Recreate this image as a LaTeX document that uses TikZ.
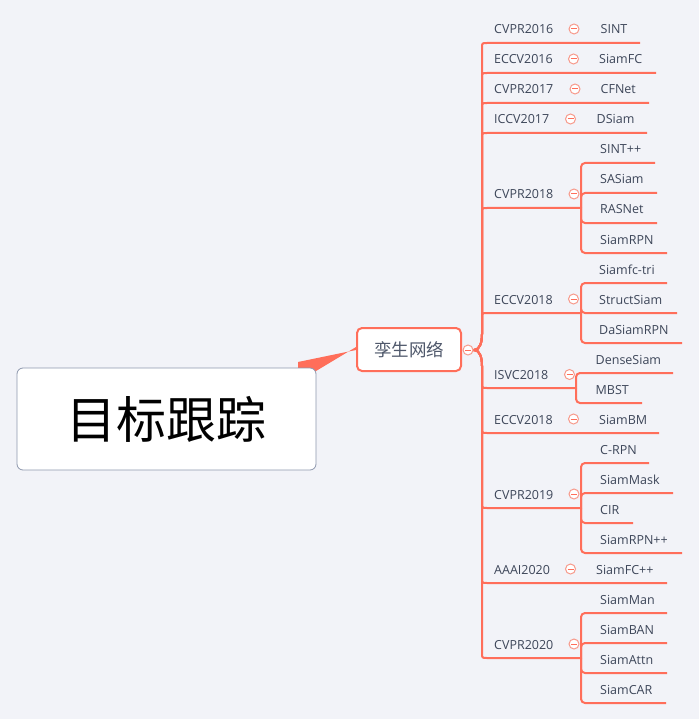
\documentclass[tikz,border=0pt]{standalone}
\usepackage{fontspec}
\setmainfont{Open Sans}
\newfontfamily\cjk{Noto Sans CJK SC}
\definecolor{bgc}{HTML}{F2F3F8}
\definecolor{ln}{HTML}{FF6E5A}
\definecolor{lnl}{HTML}{F79A8C}
\definecolor{txt}{HTML}{3D4659}
\definecolor{sibtxt}{HTML}{4F586B}
\definecolor{rootborder}{HTML}{8D97AD}
\pgfdeclarelayer{back}
\pgfdeclarelayer{lines}
\pgfsetlayers{back,lines,main}
\newcommand\subbr[3]{\foreach \yy/\xe in {#3}{\draw[link,rounded corners=4] (#1,#2) -- (#1,\yy) -- (\xe,\yy);}}
\begin{document}
\begin{tikzpicture}[x=1pt,y=-1pt,
  link/.style={draw=ln,line width=2pt},
  lab/.style={anchor=base west,inner sep=0pt,font=\fontsize{12.5}{14}\selectfont,text=txt},
  collapse/.style={circle,minimum size=10pt,inner sep=0pt,draw=lnl,line width=1pt,fill=white,
    path picture={\draw[ln,line width=1pt] ([xshift=-3pt]path picture bounding box.center) -- ([xshift=3pt]path picture bounding box.center);}},
  rootbox/.style={draw=rootborder,line width=0.8pt,fill=white,rounded corners=6pt,minimum width=299pt,minimum height=102pt,inner sep=0pt,font=\cjk\fontsize{50}{56}\selectfont,text=black},
  sibbox/.style={draw=ln,line width=2pt,fill=white,rounded corners=5pt,minimum width=104pt,minimum height=43pt,inner sep=0pt,font=\cjk\fontsize{17.5}{20}\selectfont,text=sibtxt}]
\begin{pgfonlayer}{back}
\fill[bgc] (0,0) rectangle (699,719);
\end{pgfonlayer}
\useasboundingbox (0,0) rectangle (699,719);

% main nodes
\node[rootbox] (root) at (166.5,419) {目标跟踪};
\node[sibbox] (sib) at (409,349.5) {孪生网络};
\node[collapse] (c0) at (468,350) {};

% year labels
\node[lab] (y1) at (494,34) {CVPR2016};
\node[lab] (y2) at (494,64) {ECCV2016};
\node[lab] (y3) at (494,94) {CVPR2017};
\node[lab] (y4) at (494,124) {ICCV2017};
\node[lab] (y5) at (494,199) {CVPR2018};
\node[lab] (y6) at (494,304) {ECCV2018};
\node[lab] (y7) at (494,379) {ISVC2018};
\node[lab] (y8) at (494,424) {ECCV2018};
\node[lab] (y9) at (494,499) {CVPR2019};
\node[lab] (y10) at (494,574) {AAAI2020};
\node[lab] (y11) at (494,649) {CVPR2020};

% collapse circles
\node[collapse] (k1) at (574,29) {};
\node[collapse] (k2) at (573.5,59) {};
\node[collapse] (k3) at (575,89) {};
\node[collapse] (k4) at (570.5,119) {};
\node[collapse] (k5) at (574,194) {};
\node[collapse] (k6) at (573.5,299) {};
\node[collapse] (k7) at (569.5,374.5) {};
\node[collapse] (k8) at (573.5,419) {};
\node[collapse] (k9) at (574,494) {};
\node[collapse] (k10) at (570.5,569) {};
\node[collapse] (k11) at (574,644) {};

% leaves
\node[lab] (l1) at (600.5,34) {SINT};
\node[lab] (l2) at (599,64) {SiamFC};
\node[lab] (l3) at (600.5,94) {CFNet};
\node[lab] (l4) at (596.5,124) {DSiam};
\node[lab] (l5a) at (600,154) {SINT++};
\node[lab] (l5b) at (600,184) {SASiam};
\node[lab] (l5c) at (600,214) {RASNet};
\node[lab] (l5d) at (600,244) {SiamRPN};
\node[lab] (l6a) at (599,274) {Siamfc-tri};
\node[lab] (l6b) at (599,304) {StructSiam};
\node[lab] (l6c) at (599,334) {DaSiamRPN};
\node[lab] (l7a) at (595.5,364) {DenseSiam};
\node[lab] (l7b) at (595.5,394) {MBST};
\node[lab] (l8) at (599,424) {SiamBM};
\node[lab] (l9a) at (600,454) {C-RPN};
\node[lab] (l9b) at (600,484) {SiamMask};
\node[lab] (l9c) at (600,514) {CIR};
\node[lab] (l9d) at (600,544) {SiamRPN++};
\node[lab] (l10) at (596,574) {SiamFC++};
\node[lab] (l11a) at (600,604) {SiamMan};
\node[lab] (l11b) at (600,634) {SiamBAN};
\node[lab] (l11c) at (600,664) {SiamAttn};
\node[lab] (l11d) at (600,694) {SiamCAR};

\begin{pgfonlayer}{lines}
% tapered link root -> sib
\fill[ln] (298,362) -- ([yshift=-0.5pt]sib.west) -- ([yshift=2.5pt]sib.west) -- (316,371) -- (298,372) -- cycle;
% trunk
\foreach \yy/\xe in {43/640,73/656,103/649,133/647,208/581,313/581,388/576,433/659,508/581,583/667,658/581}{
  \pgfmathsetmacro\s{\yy<350 ? -1 : 1}
  \draw[link] (c0.east) -- (474,350) .. controls (480,350) and (482,{350+\s*8}) .. (482,{350+\s*16}) -- (482,{\yy-\s*5}) .. controls (482,\yy) .. (487,\yy) -- (\xe,\yy);
}
% sub brackets
\subbr{581}{208}{163/655,193/657,223/657,253/667}
\subbr{581}{313}{283/667,313/677,343/682}
\subbr{576}{388}{373/673,403/642}
\subbr{581}{508}{463/649,493/673,523/633,553/682}
\subbr{581}{658}{613/667,643/667,673/667,703/666}
\end{pgfonlayer}
\end{tikzpicture}
\end{document}
